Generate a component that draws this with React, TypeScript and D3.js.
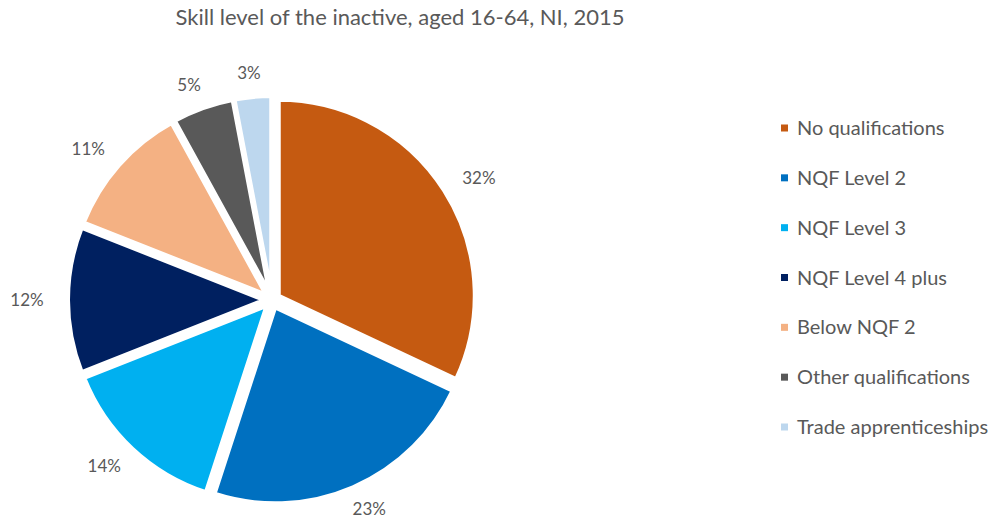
import React from "react";
import * as d3 from "d3";

const categories = [
  "No qualifications",
  "NQF Level 2",
  "NQF Level 3",
  "NQF Level 4 plus",
  "Below NQF 2",
  "Other qualifications",
  "Trade apprenticeships",
];
const values = [32, 23, 14, 12, 11, 5, 3];
const colors = ["#C55A11", "#0070C0", "#00B0F0", "#002060", "#F4B183", "#595959", "#BDD7EE"];
const title = "Skill level of the inactive, aged 16-64, NI, 2015";

export default function App() {
  const W = 1006, H = 521;
  const cx = 272, cy = 300, R = 196, explode = 8;
  const labelRx = 245, labelRy = 228;
  const pie = d3.pie<number>().sort(null).value((d) => d).startAngle(0).endAngle(2 * Math.PI);
  const arcs = pie(values);
  const arc = d3.arc<d3.PieArcDatum<number>>().innerRadius(0).outerRadius(R);
  const total = d3.sum(values);
  const legendY = d3.scalePoint<string>().domain(categories).range([128, 427]);
  const font = "Lato, 'Open Sans', sans-serif";
  return (
    <svg width={W} height={H} style={{ position: "absolute", left: 0, top: 0, background: "#fff" }}>
      <rect width={W} height={H} fill="#fff" />
      <text x={400} y={25} textAnchor="middle" fontFamily={font} fontSize={22} fill="#595959">
        {title}
      </text>
      <g transform={`translate(${cx},${cy})`}>
        {arcs.map((a, i) => {
          const mid = (a.startAngle + a.endAngle) / 2;
          const dx = Math.sin(mid) * explode, dy = -Math.cos(mid) * explode;
          return (
            <path
              key={i}
              d={arc(a) || ""}
              transform={`translate(${dx},${dy})`}
              fill={colors[i]}
              stroke="#fff"
              strokeWidth={4}
              strokeLinejoin="miter"
            />
          );
        })}
        {arcs.map((a, i) => {
          const mid = (a.startAngle + a.endAngle) / 2;
          const x = Math.sin(mid) * labelRx, y = -Math.cos(mid) * labelRy;
          return (
            <text key={i} x={x} y={y} dy="0.35em" textAnchor="middle" fontFamily={font} fontSize={17} fill="#595959">
              {Math.round((values[i] / total) * 100)}%
            </text>
          );
        })}
      </g>
      <g>
        {categories.map((c, i) => (
          <g key={c} transform={`translate(781,${legendY(c)})`}>
            <rect x={0} y={-3.5} width={7} height={7} fill={colors[i]} />
            <text x={16} y={0} dy="0.35em" fontFamily={font} fontSize={20} fill="#595959">
              {c}
            </text>
          </g>
        ))}
      </g>
    </svg>
  );
}
